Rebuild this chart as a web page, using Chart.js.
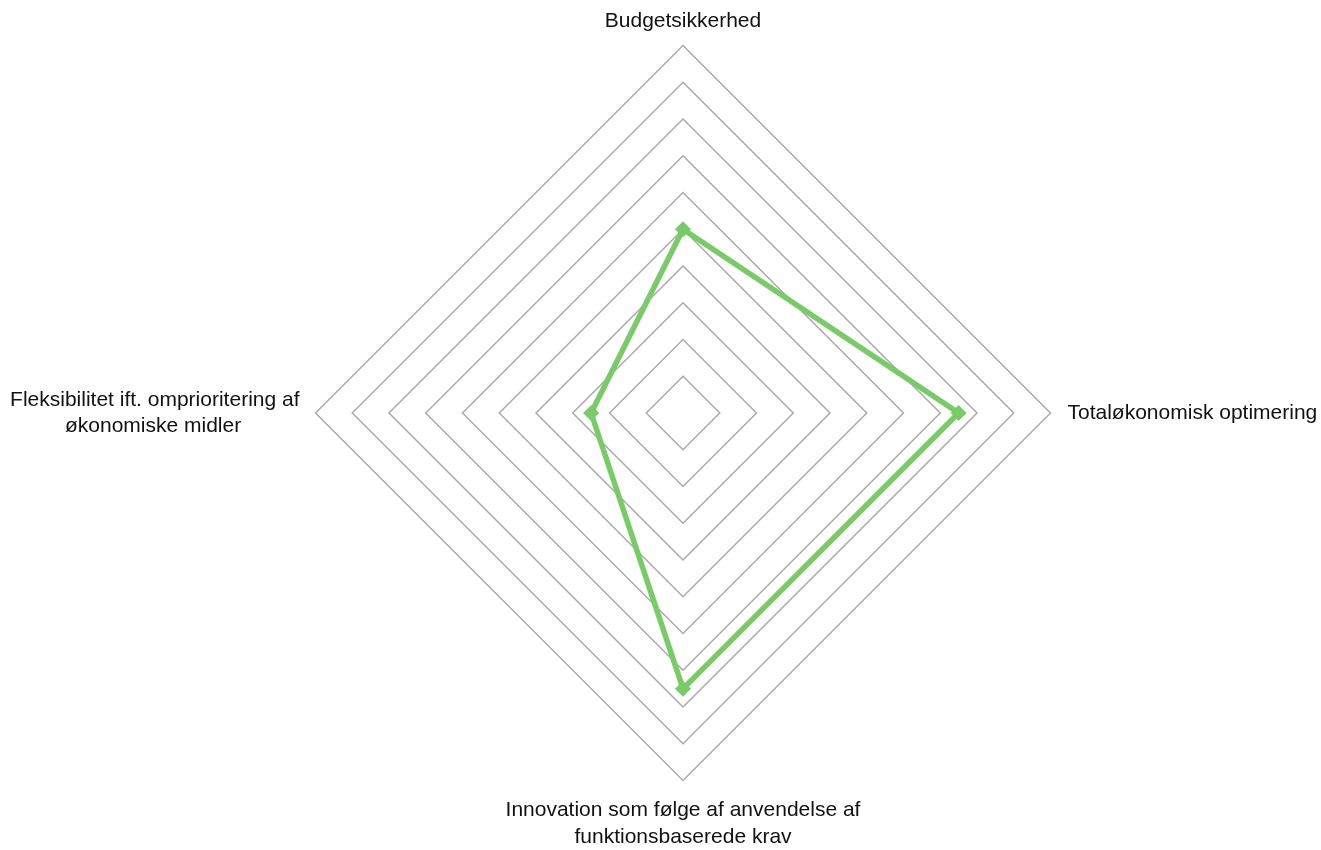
<!DOCTYPE html>
<html>
<head>
<meta charset="utf-8">
<script src="https://cdn.jsdelivr.net/npm/chart.js@4/dist/chart.umd.min.js"></script>
<style>
  html, body { margin: 0; padding: 0; background: #fff; width: 1321px; height: 850px; overflow: hidden; }
  /* canvas a bit larger than the page so the radar gets the reference's size */
  #wrap { position: absolute; left: -10px; top: -7px; width: 1348px; height: 874px; }
</style>
</head>
<body>
<div id="wrap"><canvas id="myChart"></canvas></div>
<script>
// axes of the radar, 0-10 scale
const categories = [
  "Budgetsikkerhed",
  "Totaløkonomisk optimering",
  ["Innovation som følge af anvendelse af", "funktionsbaserede krav"],
  ["Fleksibilitet ift. omprioritering af", "økonomiske midler" + "\u00a0".repeat(10)]
];
const scores = [5, 7.5, 7.5, 2.5];
const scaleMin = 0;
const scaleMax = 10;
const scaleStep = 1;

// gap between outer ring and each label (top, right, bottom, left)
const labelGap = [11, 17, 17, 16];

const chart = new Chart("myChart", {
  type: "radar",
  data: {
    labels: categories,
    datasets: [{
      data: scores,
      borderColor: "#77cc66",
      backgroundColor: "#77cc66",
      borderWidth: 5.5,
      fill: false,
      pointStyle: "rectRot",
      pointRadius: 8,
      pointHoverRadius: 8,
      pointBackgroundColor: "#77cc66",
      pointBorderColor: "#77cc66",
      pointBorderWidth: 0,
      tension: 0
    }]
  },
  options: {
    responsive: true,
    maintainAspectRatio: false,
    animation: false,
    plugins: {
      legend: { display: false },
      tooltip: { enabled: false }
    },
    scales: {
      r: {
        min: scaleMin,
        max: scaleMax,
        ticks: { display: false, stepSize: scaleStep },
        angleLines: { display: false },
        grid: { circular: false, color: "#aaaaaa", lineWidth: 1.5 },
        pointLabels: {
          color: "#111111",
          padding: (ctx) => labelGap[ctx.index],
          font: { family: "'Liberation Sans', Arial, sans-serif", size: 21, lineHeight: 1.25 }
        }
      }
    }
  }
});
</script>
</body>
</html>
